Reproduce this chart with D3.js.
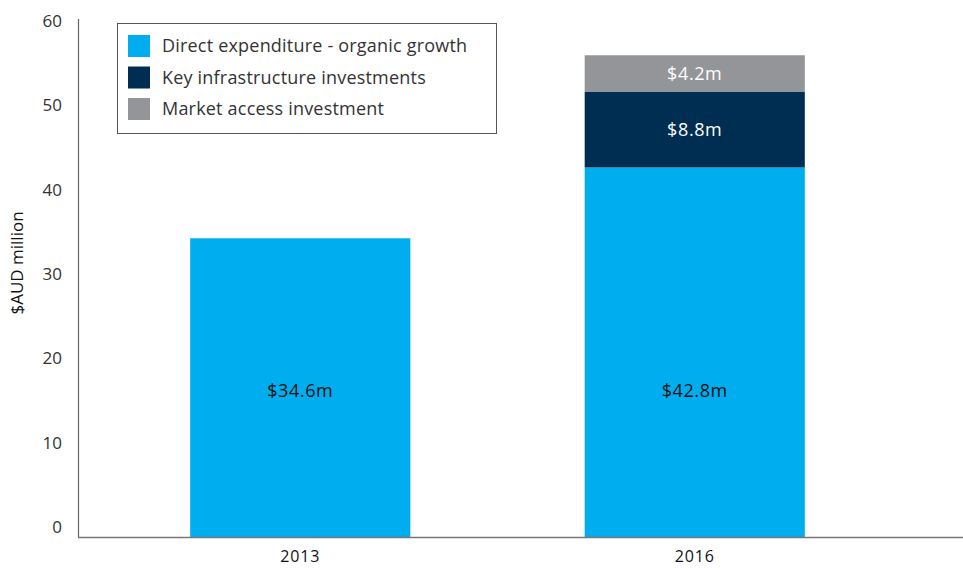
<!DOCTYPE html>
<html><head><meta charset="utf-8">
<script src="https://cdn.jsdelivr.net/npm/d3@7"></script>
<style>body{margin:0;background:#fff}svg{display:block}</style>
</head><body>
<svg id="c" width="963" height="569"></svg>
<script>
const categories = ["2013", "2016"];
const seriesNames = ["Direct expenditure - organic growth", "Key infrastructure investments", "Market access investment"];
const direct = [34.6, 42.8];
const infrastructure = [0, 8.8];
const marketAccess = [0, 4.2];
const valueLabels = [["$34.6m", "$42.8m"], ["", "$8.8m"], ["", "$4.2m"]];
const yTicks = [0, 10, 20, 30, 40, 50, 60];
const colors = ["#00adee", "#002d52", "#939598"];
const labelColors = ["#111", "#fff", "#fff"];

const svg = d3.select("#c");
const font = "'Open Sans', sans-serif";
const y = d3.scaleLinear().domain([0, 60]).range([537, 19]);
// tick labels in the original sit on a slightly compressed scale
const yLab = d3.scaleLinear().domain([0, 60]).range([527, 21]);
const x = d3.scaleBand().domain(categories).range([103, 892]).paddingInner(0.442).paddingOuter(0.221);

const rows = categories.map((c, i) => ({cat: c, v: [direct[i], infrastructure[i], marketAccess[i]]}));
const stack = d3.stack().keys([0, 1, 2]).value((d, k) => d.v[k]);
const layers = stack(rows);

layers.forEach((layer, k) => {
  const g = svg.append("g");
  layer.forEach((seg, i) => {
    if (seg[1] - seg[0] <= 0) return;
    g.append("rect").attr("x", x(categories[i])).attr("width", x.bandwidth())
      .attr("y", y(seg[1])).attr("height", y(seg[0]) - y(seg[1])).attr("fill", colors[k]);
    const cy = k === 0 ? 391 : (y(seg[0]) + y(seg[1])) / 2;
    g.append("text").attr("x", x(categories[i]) + x.bandwidth() / 2).attr("y", cy)
      .attr("dy", "0.35em").attr("text-anchor", "middle").attr("fill", labelColors[k])
      .style("font-family", font).style("font-size", "18px").style("letter-spacing", "0.6px")
      .text(valueLabels[k][i]);
  });
});

// y axis
const ya = svg.append("g").attr("transform", "translate(78,0)")
  .call(d3.axisLeft(yLab).tickValues(yTicks).tickSize(0).tickPadding(16));
ya.select(".domain").attr("d", `M0.5,${y(60)}V${y(0)}`).attr("stroke", "#666").attr("stroke-width", 1.2);
ya.selectAll("text").style("font-family", font).style("font-size", "17px").attr("fill", "#333");

const xa = svg.append("g").attr("transform", "translate(0,537)")
  .call(d3.axisBottom(x).tickSize(0).tickPadding(14));
xa.select(".domain").attr("d", "M78,0.5H963").attr("stroke", "#777").attr("stroke-width", 1.5);
xa.selectAll("text").style("font-family", font).style("font-size", "16px").style("letter-spacing", "0.8px").attr("fill", "#111");

svg.append("text").attr("transform", "translate(23,263) rotate(-90)")
  .attr("text-anchor", "middle").style("font-family", font).style("font-size", "17px")
  .attr("fill", "#111").text("$AUD million");

// legend
const lg = svg.append("g");
lg.append("rect").attr("x", 117.5).attr("y", 23.5).attr("width", 379).attr("height", 110)
  .attr("fill", "#fff").attr("stroke", "#555").attr("stroke-width", 1);
seriesNames.forEach((n, k) => {
  const cy = 46 + k * 31.5;
  lg.append("rect").attr("x", 128).attr("y", cy - 11).attr("width", 22).attr("height", 22).attr("fill", colors[k]);
  lg.append("text").attr("x", 162).attr("y", cy).attr("dy", "0.35em")
    .style("font-family", font).style("font-size", "18px").style("letter-spacing", "0.2px")
    .attr("fill", "#333").text(n);
});
</script>
</body></html>
